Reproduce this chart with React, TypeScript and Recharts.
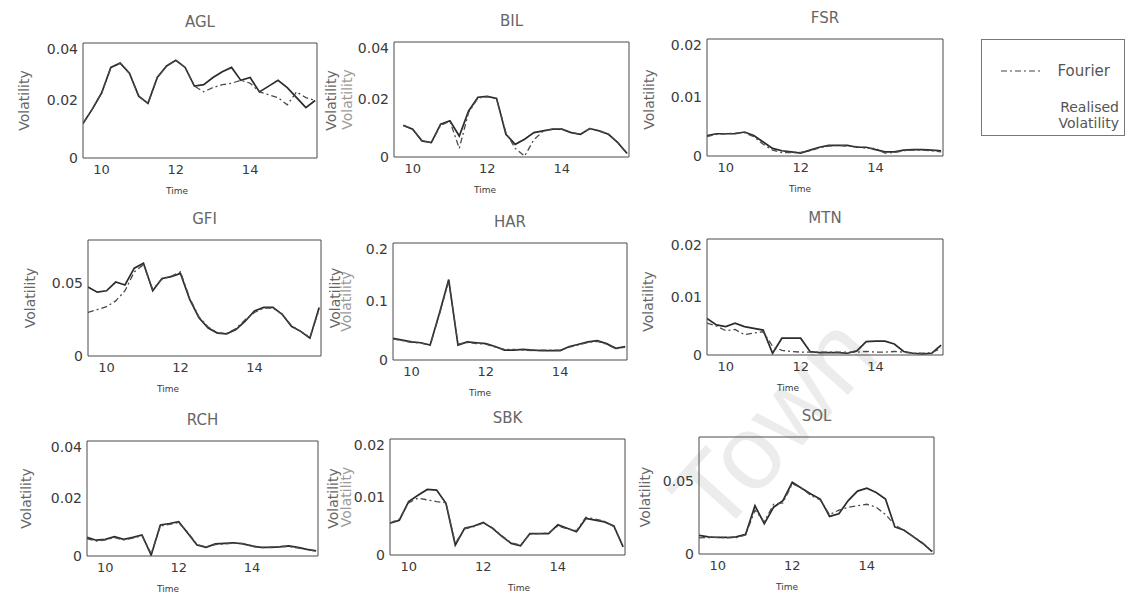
import { LineChart, Line, XAxis, YAxis } from "recharts"

// intraday time grid (hours)
const TIMES = [
  9.5, 9.75, 10, 10.25, 10.5, 10.75, 11, 11.25, 11.5, 11.75, 12, 12.25, 12.5,
  12.75, 13, 13.25, 13.5, 13.75, 14, 14.25, 14.5, 14.75, 15, 15.25, 15.5, 15.75,
]
const TIME_TICKS = [10, 12, 14]

const AGL_RV = [0.012, 0.017, 0.0226, 0.0315, 0.033, 0.0295, 0.0215, 0.019, 0.028, 0.032, 0.034, 0.0315, 0.025, 0.0255, 0.028, 0.03, 0.0315, 0.027, 0.028, 0.023, 0.025, 0.027, 0.0245, 0.021, 0.0175, 0.02]
const AGL_FOURIER = [0.012, 0.017, 0.0226, 0.0315, 0.033, 0.0295, 0.0215, 0.019, 0.028, 0.032, 0.034, 0.0315, 0.025, 0.023, 0.0245, 0.0255, 0.026, 0.027, 0.026, 0.023, 0.022, 0.021, 0.0185, 0.023, 0.021, 0.02]

const BIL_RV = [null, 0.011, 0.0097, 0.0056, 0.005, 0.0114, 0.0126, 0.0073, 0.016, 0.0208, 0.0211, 0.0204, 0.0079, 0.0044, 0.0062, 0.0085, 0.0091, 0.0097, 0.0097, 0.0085, 0.0079, 0.0099, 0.0091, 0.0079, 0.005, 0.0012]
const BIL_FOURIER = [null, 0.011, 0.0097, 0.0056, 0.005, 0.011, 0.0124, 0.003, 0.0155, 0.0205, 0.021, 0.0202, 0.0085, 0.003, 0.0003, 0.006, 0.009, 0.0097, 0.0097, 0.0085, 0.0079, 0.0099, 0.0091, 0.0079, 0.005, 0.0012]

const FSR_RV = [0.0035, 0.0038, 0.0038, 0.0038, 0.0041, 0.0035, 0.0024, 0.0013, 0.0009, 0.0007, 0.0005, 0.001, 0.0015, 0.0018, 0.0018, 0.0018, 0.0015, 0.0015, 0.0011, 0.0007, 0.0007, 0.001, 0.0011, 0.0011, 0.001, 0.0009]
const FSR_FOURIER = [0.0033, 0.0037, 0.0038, 0.0039, 0.004, 0.0033, 0.002, 0.001, 0.0006, 0.0006, 0.0006, 0.0009, 0.0014, 0.0017, 0.0018, 0.0017, 0.0016, 0.0013, 0.0013, 0.0005, 0.0006, 0.0009, 0.001, 0.001, 0.0009, 0.0007]

const GFI_RV = [0.0476, 0.044, 0.045, 0.051, 0.049, 0.0606, 0.064, 0.045, 0.0535, 0.0547, 0.057, 0.039, 0.0264, 0.0193, 0.0158, 0.0153, 0.0182, 0.024, 0.031, 0.0335, 0.0335, 0.0288, 0.0205, 0.017, 0.0123, 0.0335]
const GFI_FOURIER = [0.03, 0.032, 0.034, 0.038, 0.045, 0.058, 0.063, 0.046, 0.053, 0.055, 0.058, 0.04, 0.027, 0.02, 0.016, 0.0155, 0.019, 0.025, 0.03, 0.033, 0.033, 0.029, 0.021, 0.017, 0.013, 0.032]

const HAR_RV = [0.037, 0.034, 0.031, 0.0295, 0.0256, 0.08, 0.1375, 0.0256, 0.031, 0.0295, 0.028, 0.023, 0.017, 0.017, 0.018, 0.017, 0.016, 0.016, 0.016, 0.023, 0.027, 0.031, 0.033, 0.028, 0.02, 0.023]
const HAR_FOURIER = [0.036, 0.033, 0.03, 0.029, 0.025, 0.078, 0.135, 0.027, 0.03, 0.028, 0.027, 0.022, 0.018, 0.018, 0.017, 0.016, 0.017, 0.017, 0.017, 0.022, 0.026, 0.03, 0.032, 0.027, 0.019, 0.022]

const MTN_RV = [0.0063, 0.0052, 0.0049, 0.0055, 0.0049, 0.0046, 0.0043, 0.0003, 0.0029, 0.0029, 0.0029, 0.0006, 0.0004, 0.0004, 0.0004, 0.0003, 0.0007, 0.0023, 0.0024, 0.0024, 0.0019, 0.0006, 0.0003, 0.0002, 0.0003, 0.0017]
const MTN_FOURIER = [0.0055, 0.005, 0.0042, 0.0044, 0.0035, 0.0038, 0.004, 0.0015, 0.0008, 0.0006, 0.0005, 0.0005, 0.0005, 0.0005, 0.0005, 0.0005, 0.0005, 0.0006, 0.0005, 0.0005, 0.0006, 0.0005, 0.0003, 0.0003, 0.0004, 0.0012]

const RCH_RV = [0.0065, 0.0055, 0.0058, 0.0067, 0.0058, 0.0065, 0.0073, 0.0003, 0.0108, 0.0113, 0.0119, 0.0079, 0.0038, 0.003, 0.0042, 0.0044, 0.0046, 0.0042, 0.0035, 0.003, 0.003, 0.0032, 0.0035, 0.003, 0.0023, 0.0018]
const RCH_FOURIER = [0.006, 0.0052, 0.0056, 0.0064, 0.0056, 0.0062, 0.007, 0.0008, 0.0104, 0.011, 0.0116, 0.0082, 0.004, 0.0032, 0.004, 0.0042, 0.0044, 0.0044, 0.0033, 0.0029, 0.0031, 0.0033, 0.0033, 0.0028, 0.0022, 0.0017]

const SBK_RV = [0.0055, 0.006, 0.0092, 0.0103, 0.0113, 0.0112, 0.0089, 0.0017, 0.0046, 0.005, 0.0056, 0.0046, 0.0032, 0.002, 0.0016, 0.0037, 0.0037, 0.0037, 0.0052, 0.0046, 0.004, 0.0063, 0.006, 0.0057, 0.005, 0.0014]
const SBK_FOURIER = [0.0055, 0.0062, 0.009, 0.0098, 0.0095, 0.0092, 0.009, 0.002, 0.0045, 0.0049, 0.0055, 0.0047, 0.0033, 0.0021, 0.0017, 0.0036, 0.0037, 0.0038, 0.005, 0.0045, 0.0042, 0.0065, 0.0062, 0.0058, 0.0049, 0.0015]

const SOL_RV = [0.0128, 0.0117, 0.0113, 0.0113, 0.0117, 0.0135, 0.033, 0.0207, 0.032, 0.0365, 0.049, 0.045, 0.041, 0.0376, 0.0257, 0.0275, 0.0365, 0.043, 0.045, 0.042, 0.0376, 0.0185, 0.0162, 0.0117, 0.0072, 0.0016]
const SOL_FOURIER = [0.011, 0.0112, 0.0115, 0.011, 0.0112, 0.013, 0.03, 0.022, 0.034, 0.035, 0.048, 0.045, 0.04, 0.037, 0.027, 0.03, 0.032, 0.033, 0.034, 0.032, 0.027, 0.02, 0.016, 0.012, 0.0075, 0.0018]

const TICKS_004 = [0, 0.02, 0.04]
const TICKS_002 = [0, 0.01, 0.02]
const TICKS_008 = [0, 0.05]
const TICKS_02 = [0, 0.1, 0.2]

// plot box of each panel in page pixels; gaps are label offsets from the box
const PANELS = [
  { title: "AGL", rv: AGL_RV, fourier: AGL_FOURIER, yMax: 0.04, yTicks: TICKS_004, box: { x: 83, y: 43, w: 234, h: 115 }, leftGap: 59, rightGap: 14, timeX: 94 },
  { title: "BIL", rv: BIL_RV, fourier: BIL_FOURIER, yMax: 0.04, yTicks: TICKS_004, box: { x: 394, y: 42, w: 235, h: 115 }, leftGap: 47, rightGap: 20, timeX: 91 },
  { title: "FSR", rv: FSR_RV, fourier: FSR_FOURIER, yMax: 0.02, yTicks: TICKS_002, box: { x: 707, y: 39, w: 236, h: 117 }, leftGap: 0, rightGap: 0, timeX: 93 },
  { title: "GFI", rv: GFI_RV, fourier: GFI_FOURIER, yMax: 0.08, yTicks: TICKS_008, box: { x: 88, y: 240, w: 233, h: 116 }, leftGap: 58, rightGap: 14, timeX: 80 },
  { title: "HAR", rv: HAR_RV, fourier: HAR_FOURIER, yMax: 0.2, yTicks: TICKS_02, box: { x: 393, y: 243, w: 234, h: 117 }, leftGap: 47, rightGap: 21, timeX: 87 },
  { title: "MTN", rv: MTN_RV, fourier: MTN_FOURIER, yMax: 0.02, yTicks: TICKS_002, box: { x: 707, y: 239, w: 236, h: 116 }, leftGap: 0, rightGap: 0, timeX: 81 },
  { title: "RCH", rv: RCH_RV, fourier: RCH_FOURIER, yMax: 0.04, yTicks: TICKS_004, box: { x: 87, y: 441, w: 231, h: 115 }, leftGap: 61, rightGap: 15, timeX: 81 },
  { title: "SBK", rv: SBK_RV, fourier: SBK_FOURIER, yMax: 0.02, yTicks: TICKS_002, box: { x: 390, y: 439, w: 235, h: 116 }, leftGap: 44, rightGap: 20, timeX: 129 },
  { title: "SOL", rv: SOL_RV, fourier: SOL_FOURIER, yMax: 0.08, yTicks: TICKS_008, box: { x: 699, y: 437, w: 235, h: 117 }, leftGap: 0, rightGap: 0, timeX: 88 },
]

const FONT = "'DejaVu Sans', 'Liberation Sans', sans-serif"
const INK = "#3a3a3a"
const SOFT = "#666"
const FRAME = "#4a4a4a"

const L = 70
const R = 36
const B = 28

function Panel({ p, col }: { p: (typeof PANELS)[number]; col: number }) {
  const data = TIMES.map((t, i) => ({ t, rv: p.rv[i], fourier: p.fourier[i] }))
  const { x, y, w, h } = p.box
  // the second column's left label is half hidden in the scan
  const leftColor = col === 1 ? "#9a9a9a" : SOFT
  return (
    <>
      <div
        style={{
          position: "absolute",
          left: x,
          top: y - 31,
          width: w,
          textAlign: "center",
          fontFamily: FONT,
          fontSize: 15,
          lineHeight: "20px",
          color: SOFT,
        }}
      >
        {p.title}
      </div>
      <div style={{ position: "absolute", left: x - L, top: y - 2 }}>
        <LineChart width={w + L + R} height={h + B + 2} data={data} margin={{ top: 1, right: 0, bottom: 0, left: 0 }}>
          <XAxis
            dataKey="t"
            type="number"
            domain={[9.5, 15.8]}
            ticks={TIME_TICKS}
            allowDataOverflow
            height={B}
            stroke={FRAME}
            tickLine={false}
            tickSize={2}
            tickMargin={5}
            tick={{ fontSize: 13, fill: INK, fontFamily: FONT }}
          />
          <XAxis xAxisId="top" orientation="top" type="number" dataKey="t" domain={[9.5, 15.8]} allowDataOverflow height={1} tick={false} tickLine={false} stroke={FRAME} />
          <YAxis
            type="number"
            domain={[0, p.yMax]}
            ticks={p.yTicks}
            allowDataOverflow
            width={L}
            stroke={FRAME}
            tickLine={false}
            tickSize={2}
            tickMargin={3}
            tickFormatter={(v: number) => String(v)}
            tick={{ fontSize: 14, fill: INK, fontFamily: FONT }}
            label={
              p.leftGap
                ? { value: "Volatility", angle: -90, position: "insideLeft", offset: L - p.leftGap, style: { textAnchor: "middle", fontSize: 14, fill: leftColor, fontFamily: FONT } }
                : undefined
            }
          />
          <YAxis
            yAxisId="right"
            orientation="right"
            type="number"
            domain={[0, p.yMax]}
            width={R}
            tick={false}
            tickLine={false}
            stroke={FRAME}
            label={
              p.rightGap
                ? { value: "Volatility", angle: -90, position: "insideRight", offset: R - p.rightGap, style: { textAnchor: "middle", fontSize: 14, fill: SOFT, fontFamily: FONT } }
                : undefined
            }
          />
          <Line dataKey="rv" type="linear" stroke="#2b2b2b" strokeWidth={1.7} dot={false} isAnimationActive={false} />
          <Line dataKey="fourier" type="linear" stroke="#4a4a4a" strokeWidth={1.3} strokeDasharray="6 3 2 3" dot={false} isAnimationActive={false} />
        </LineChart>
      </div>
      <div
        style={{
          position: "absolute",
          left: x + p.timeX - 30,
          top: y + h + 27,
          width: 60,
          textAlign: "center",
          fontFamily: FONT,
          fontSize: 9,
          lineHeight: "12px",
          color: INK,
        }}
      >
        Time
      </div>
    </>
  )
}

function Legend() {
  return (
    <div
      style={{
        position: "absolute",
        left: 981,
        top: 39,
        width: 142,
        height: 95,
        border: "1px solid #777",
        fontFamily: FONT,
        fontSize: 14,
        color: "#555",
      }}
    >
      <svg width={142} height={95} style={{ position: "absolute", left: 0, top: 0 }}>
        <line x1={19} y1={31} x2={60} y2={31} stroke="#444" strokeWidth={1.2} strokeDasharray="6 3 2 3" />
      </svg>
      <div style={{ position: "absolute", right: 14, top: 22, lineHeight: "18px", fontSize: 15 }}>Fourier</div>
      <div style={{ position: "absolute", right: 5, top: 59, lineHeight: "16px", textAlign: "right" }}>
        Realised
        <br />
        Volatility
      </div>
    </div>
  )
}

export default function App() {
  return (
    <div style={{ position: "absolute", left: 0, top: 0, width: 1128, height: 601, background: "#fff", overflow: "hidden" }}>
      <svg width={1128} height={601} style={{ position: "absolute", left: 0, top: 0 }}>
        <text
          x={882}
          y={357}
          textAnchor="end"
          transform="rotate(-48 882 357)"
          fontSize={105}
          fontFamily="'Liberation Sans', sans-serif"
          fill="#ececec"
        >
          Town
        </text>
      </svg>
      {PANELS.map((p, i) => (
        <Panel key={p.title} p={p} col={i % 3} />
      ))}
      <Legend />
    </div>
  )
}
